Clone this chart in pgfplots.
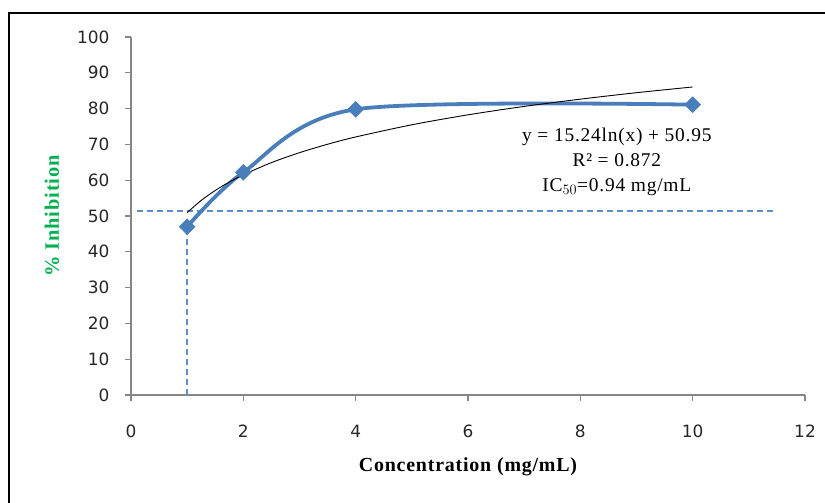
\documentclass[border=0pt]{standalone}
\usepackage{fontspec}
\setmainfont{Liberation Serif}
\newfontfamily\tickfont{DejaVu Sans}
\newfontfamily\labfont[LetterSpace=4]{Liberation Serif}
\newfontfamily\notefont[LetterSpace=4]{Liberation Serif}
\usepackage{pgfplots}
\pgfplotsset{compat=1.18}
\definecolor{exblue}{HTML}{4A7EBB}
\definecolor{dashblue}{HTML}{5B8FD0}
\definecolor{axgray}{HTML}{868686}
\definecolor{labgreen}{HTML}{00B050}

\begin{document}
\begin{tikzpicture}[x=1bp,y=1bp]
  \path[use as bounding box] (0,0) rectangle (825,-503);
  \draw[line width=2.2bp] (9,-503) -- (9,-13) -- (825,-13);
  \begin{axis}[
      at={(131bp,-395bp)}, anchor=south west,
      scale only axis, width=674bp, height=358bp,
      xmin=0, xmax=12, ymin=0, ymax=100,
      xtick={0,2,...,12}, ytick={0,10,...,100},
      axis lines=left, axis line style={-, draw=axgray, line width=1.2bp},
      tick align=outside, major tick length=6bp,
      tick style={draw=axgray, line width=1.2bp},
      /pgf/number format/assume math mode=true,
      ticklabel style={font=\tickfont\fontsize{17}{18}\selectfont, text=black!85},
      xticklabel style={anchor=center, yshift=-30bp},
      yticklabel style={anchor=east, xshift=-12bp},
      xlabel={Concentration (mg/mL)},
      ylabel={\% Inhibition},
      xlabel style={at={(axis description cs:0.5,0)}, anchor=center, yshift=-72bp,
        font=\labfont\fontsize{20}{22}\selectfont\bfseries},
      ylabel style={at={(axis description cs:0,0.5)}, anchor=center, yshift=79bp,
        font=\labfont\fontsize{20.5}{22}\selectfont\bfseries, text=labgreen},
      clip=false,
    ]
    % dashed guide lines at IC50
    \addplot[dashblue, line width=1.4bp, dash pattern=on 6bp off 4bp]
      coordinates {(0.1,51.4) (11.45,51.4)};
    \addplot[dashblue, line width=1.4bp, dash pattern=on 6bp off 4bp]
      coordinates {(1,0) (1,47)};
    % measured values
    \addplot[exblue, line width=3.8bp, smooth, mark=square*,
      mark size=5.6bp, mark options={rotate=45, solid, fill=exblue, draw=exblue, line width=0.5bp}]
      coordinates {(1,47.0) (2,62.2) (4,79.8) (10,81.1)};
    % logarithmic trend line
    \addplot[black, line width=0.9bp, smooth] coordinates {
      (1,50.95) (1.25,54.35) (1.5,57.13) (1.75,59.48) (2,61.51) (2.5,64.91)
      (3,67.69) (3.5,70.04) (4,72.08) (5,75.48) (6,78.26) (7,80.61)
      (8,82.64) (9,84.44) (10,86.04)};
    \node[align=center, font=\notefont\fontsize{19.5}{25}\selectfont] at (axis cs:8.65,65.1)
      {y = 15.24ln(x) + 50.95\\R² = 0.872\\IC$_{50}$=0.94 mg/mL};
  \end{axis}
\end{tikzpicture}
\end{document}
